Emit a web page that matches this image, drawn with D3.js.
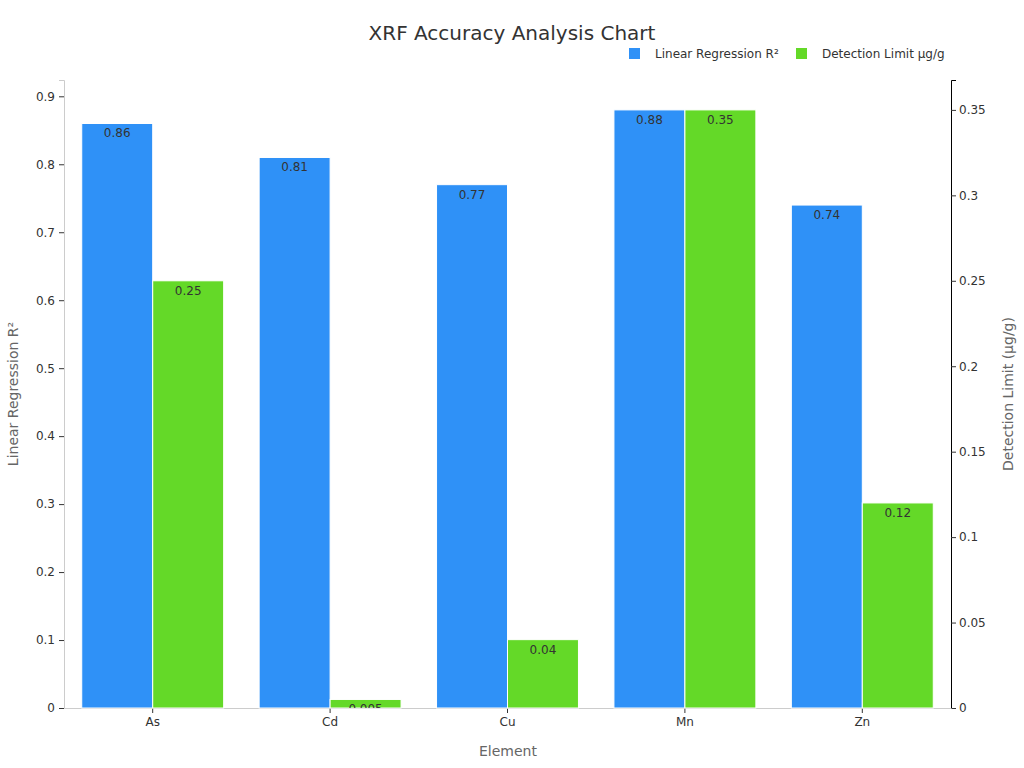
<!DOCTYPE html>
<html><head><meta charset="utf-8">
<script src="https://cdn.jsdelivr.net/npm/d3@7/dist/d3.min.js"></script>
<style>body{margin:0;background:#fff;font-family:"DejaVu Sans",sans-serif;}</style>
</head><body>
<svg id="c" width="1024" height="768"></svg>
<script>
const categories = ["As","Cd","Cu","Mn","Zn"];
const r2Values = [0.86,0.81,0.77,0.88,0.74];
const dlValues = [0.25,0.005,0.04,0.35,0.12];
const leftTicks = [0,0.1,0.2,0.3,0.4,0.5,0.6,0.7,0.8,0.9];
const rightTicks = [0,0.05,0.1,0.15,0.2,0.25,0.3,0.35];
const seriesNames = ["Linear Regression R²","Detection Limit µg/g"];
const colors = ["#2f91f7","#64d928"];

const svg = d3.select("#c");
const m = {l:64, r:951, t:80, b:708};
const x = d3.scaleBand().domain(categories).range([m.l,m.r]).paddingInner(0.2).paddingOuter(0.1);
const yL = d3.scaleLinear().domain([0, d3.max(r2Values)*1.05]).range([m.b,m.t]);
const yR = d3.scaleLinear().domain([0, d3.max(dlValues)*1.05]).range([m.b,m.t]);
const bw = x.bandwidth()/2;

// axes
const gL = svg.append("g").attr("transform",`translate(${m.l},0)`)
  .call(d3.axisLeft(yL).tickValues(leftTicks).tickFormat(d=>d===0?"0":d3.format(".1f")(d)).tickSize(5).tickPadding(4));
gL.select(".domain").attr("stroke","#ccc");
gL.selectAll(".tick line").attr("stroke","#333");
gL.selectAll("text").attr("fill","#333").style("font-size","12px").style("font-family","DejaVu Sans");

const gR = svg.append("g").attr("transform",`translate(${m.r},0)`)
  .call(d3.axisRight(yR).tickValues(rightTicks).tickFormat(d=>d===0?"0":String(+d.toFixed(2))).tickSize(5).tickPadding(3));
gR.select(".domain").attr("stroke","#000");
gR.selectAll(".tick line").attr("stroke","#333");
gR.selectAll("text").attr("fill","#333").style("font-size","12px").style("font-family","DejaVu Sans");

const gB = svg.append("g").attr("transform",`translate(0,${m.b})`)
  .call(d3.axisBottom(x).tickSize(5).tickPadding(4).tickSizeOuter(0));
gB.select(".domain").attr("stroke","#ccc");
gB.selectAll(".tick line").attr("stroke","#333");
gB.selectAll("text").attr("fill","#333").style("font-size","12px").style("font-family","DejaVu Sans");

// bars
const defs = svg.append("defs");
const series = [
  {vals:r2Values, scale:yL, color:colors[0], off:0, fmt:d=>String(d)},
  {vals:dlValues, scale:yR, color:colors[1], off:1, fmt:d=>String(d)}
];
series.forEach((s,si)=>{
  categories.forEach((c,i)=>{
    const v = s.vals[i];
    const bx = x(c)+s.off*bw, by = s.scale(v), bh = m.b - s.scale(v);
    const id = `clip${si}_${i}`;
    defs.append("clipPath").attr("id",id).append("rect").attr("x",bx).attr("y",by).attr("width",bw).attr("height",bh);
    svg.append("rect").attr("x",bx).attr("y",by).attr("width",bw).attr("height",bh)
      .attr("fill",s.color).attr("stroke","#fff").attr("stroke-width",1);
    svg.append("text").attr("clip-path",`url(#${id})`).attr("x",bx+bw/2).attr("y",by+14)
      .attr("text-anchor","middle").attr("fill","#333").style("font-size","12px").text(s.fmt(v));
  });
});

// titles
svg.append("text").attr("x",512).attr("y",40).attr("text-anchor","middle").attr("fill","#333")
  .style("font-size","20px").text("XRF Accuracy Analysis Chart");
svg.append("text").attr("x",508).attr("y",756).attr("text-anchor","middle").attr("fill","#666")
  .style("font-size","14px").text("Element");
svg.append("text").attr("transform","translate(18,394) rotate(-90)").attr("text-anchor","middle").attr("fill","#666")
  .style("font-size","14px").text("Linear Regression R²");
svg.append("text").attr("transform","translate(1013,394) rotate(-90)").attr("text-anchor","middle").attr("fill","#666")
  .style("font-size","14px").text("Detection Limit (µg/g)");

// legend
const legX = [629, 796];
seriesNames.forEach((n,i)=>{
  svg.append("rect").attr("x",legX[i]).attr("y",48).attr("width",11).attr("height",11).attr("fill",colors[i]);
  svg.append("text").attr("x",legX[i]+26).attr("y",58).attr("fill","#333").style("font-size","12px").text(n);
});
</script>
</body></html>
